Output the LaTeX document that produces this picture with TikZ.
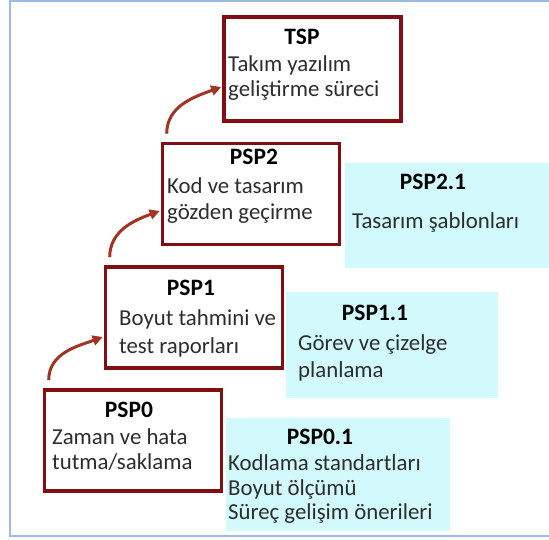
\documentclass[tikz,border=0pt]{standalone}
\usepackage{fontspec}
\setmainfont{Carlito}
\usetikzlibrary{arrows.meta}
\definecolor{framebl}{RGB}{157,187,227}
\definecolor{boxred}{RGB}{128,14,18}
\definecolor{arrred}{RGB}{163,52,36}
\definecolor{cyanfill}{RGB}{210,250,252}
\definecolor{inkgray}{RGB}{45,45,45}
\begin{document}
\begin{tikzpicture}[x=1pt,y=-1pt,
  levelbox/.style={draw=boxred,line width=3.6pt,fill=white,minimum width=177pt,minimum height=101pt,inner sep=0pt},
  addbox/.style={fill=cyanfill,inner sep=0pt},
  title/.style={font=\fontsize{23.5}{25}\selectfont\bfseries,text=black,anchor=base,inner sep=0pt},
  body/.style={font=\fontsize{22.8}{25}\selectfont,text=inkgray,anchor=base west,inner sep=0pt},
  stepup/.style={draw=arrred,line width=3pt,-{Triangle[length=10pt,width=10pt]}},
]
\useasboundingbox (0,0) rectangle (549,540);
\clip (0,0) rectangle (549,540);

% outer frame
\draw[framebl,line width=2.5pt] (10,1) rectangle (570,536);

% additional practices (light cyan panels)
\node[addbox,minimum width=215pt,minimum height=105pt] (add2) at (452.5,215.5) {};
\node[addbox,minimum width=212pt,minimum height=106pt] (add1) at (392,345) {};
\node[addbox,minimum width=224pt,minimum height=113pt] (add0) at (338,474.5) {};

% process levels
\node[levelbox,minimum height=104pt] (tsp) at (312.5,69) {};
\node[levelbox] (psp2) at (251,194) {};
\node[levelbox] (psp1) at (194,317.5) {};
\node[levelbox] (psp0) at (133,440.5) {};

% level texts
\node[title] (tspT) at (302,45) {TSP};
\node[body] (tspA) at (228,72) {Takım yazılım};
\node[body] (tspB) at (228,97) {geliştirme süreci};

\node[title] (psp2T) at (254,165) {PSP2};
\node[body] (psp2A) at (167,194) {Kod ve tasarım};
\node[body] (psp2B) at (167,220) {gözden geçirme};

\node[title] (psp1T) at (191,295) {PSP1};
\node[body] (psp1A) at (119,325) {Boyut tahmini ve};
\node[body] (psp1B) at (119,353) {test raporları};

\node[title] (psp0T) at (129,417) {PSP0};
\node[body] (psp0A) at (52,444) {Zaman ve hata};
\node[body] (psp0B) at (52,469) {tutma/saklama};

% panel texts
\node[title] (add2T) at (433,190) {PSP2.1};
\node[body] (add2A) at (352,229) {Tasarım şablonları};

\node[title] (add1T) at (375,320) {PSP1.1};
\node[body] (add1A) at (298,350) {Görev ve çizelge};
\node[body] (add1B) at (298,377) {planlama};

\node[title] (add0T) at (320,444) {PSP0.1};
\node[body] (add0A) at (228,470) {Kodlama standartları};
\node[body] (add0B) at (228,495) {Boyut ölçümü};
\node[body] (add0C) at (228,519) {Süreç gelişim önerileri};

% step-up arrows
\coordinate (s0) at ([xshift=6pt,yshift=8pt]psp0.north west);
\coordinate (s1) at ([xshift=6pt,yshift=8pt]psp1.north west);
\coordinate (s2) at ([xshift=6pt,yshift=8pt]psp2.north west);
\draw[stepup] (s0) to[out=90,in=200] ([xshift=-1pt,yshift=-19.5pt]psp1.west);
\draw[stepup] (s1) to[out=90,in=200] ([xshift=-1pt,yshift=-17pt]psp2.west);
\draw[stepup] (s2) to[out=90,in=200] ([xshift=-1pt,yshift=-18pt]tsp.west);
\end{tikzpicture}
\end{document}
